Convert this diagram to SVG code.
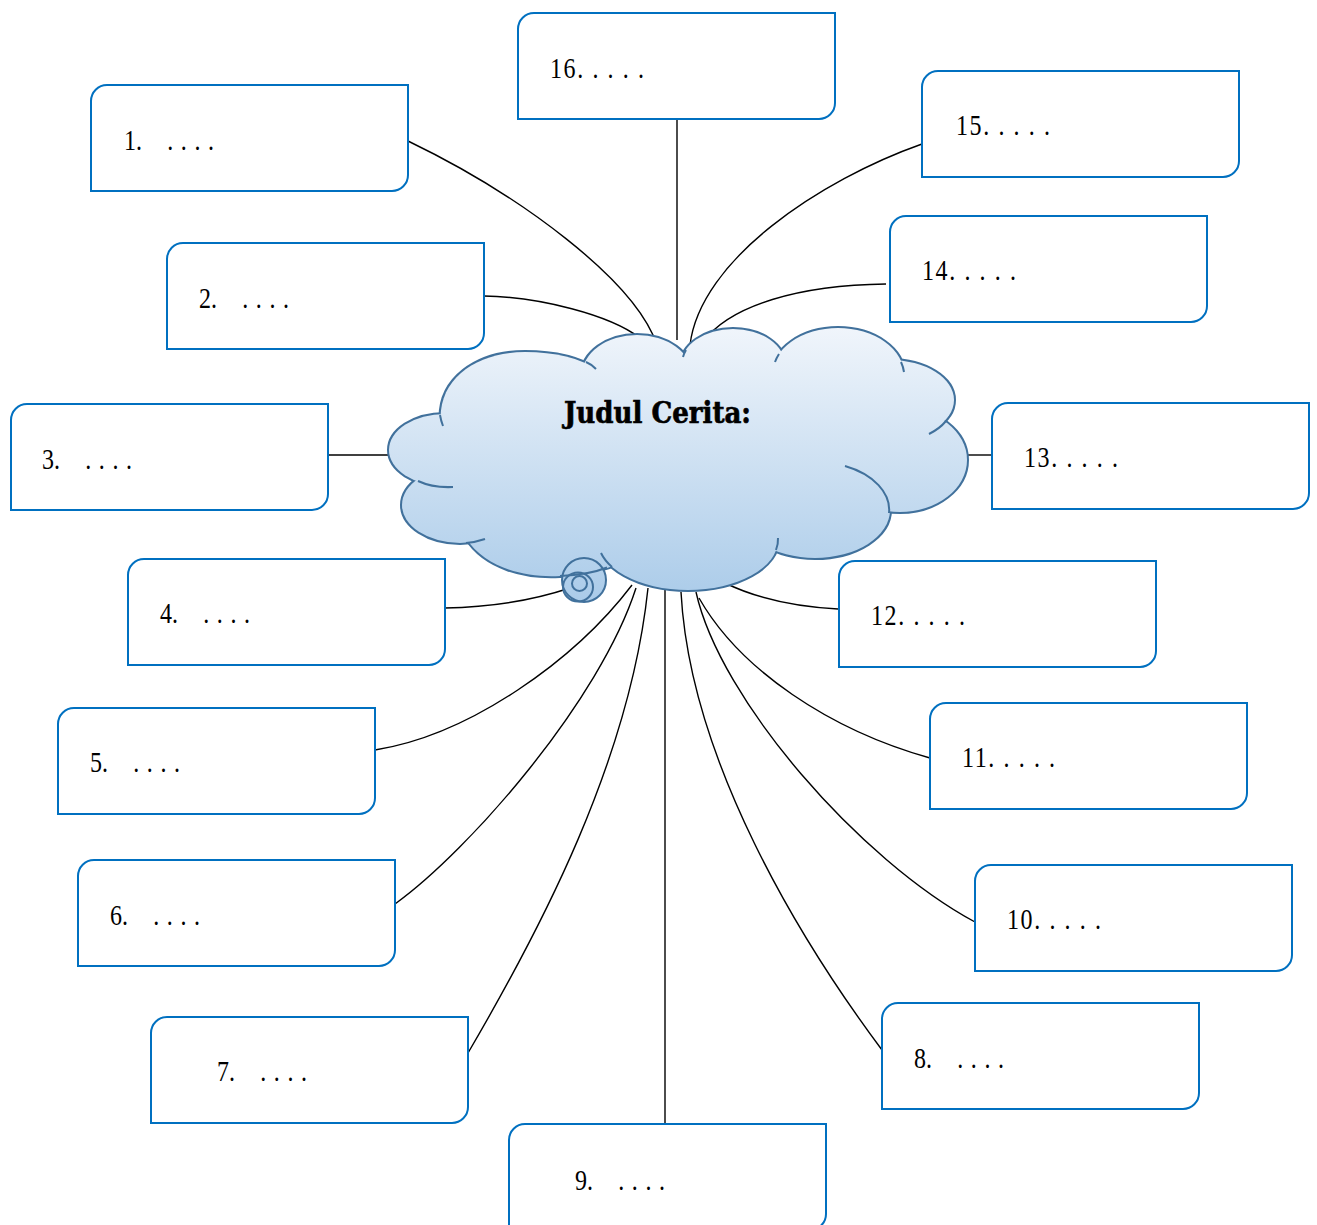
<svg xmlns="http://www.w3.org/2000/svg" xmlns:xlink="http://www.w3.org/1999/xlink" width="1317" height="1225" viewBox="0 0 1317 1225">
<style>
.box{fill:#fff;stroke:#0070c0;stroke-width:2}
.con{fill:none;stroke:#000;stroke-width:1.4}
.t{font-family:"Liberation Serif","Times New Roman",serif;font-size:30px;fill:#000}
.d{letter-spacing:1px}
.dd{letter-spacing:2px}
.hook{fill:none;stroke:#41719c;stroke-width:2}
.title{font-family:"DejaVu Serif","Liberation Serif",serif;font-weight:bold;font-size:30px;fill:#000;stroke:#000;stroke-width:0.7}
</style>
<defs>
<linearGradient id="cg" gradientUnits="userSpaceOnUse" x1="0" y1="328" x2="0" y2="603">
<stop offset="0" stop-color="#f0f5fb"/>
<stop offset="1" stop-color="#aacbe9"/>
</linearGradient>
<g id="cs">
<ellipse cx="680" cy="460" rx="220" ry="95"/>
<ellipse cx="445" cy="450" rx="56" ry="36"/>
<ellipse cx="460" cy="505" rx="58" ry="38"/>
<path d="M466,538 C485,568 525,578 560,576 C585,575 605,570 622,562 L622,500 L470,500 Z"/>
<ellipse cx="688" cy="540" rx="90" ry="50"/>
<ellipse cx="815" cy="510" rx="75" ry="48"/>
<ellipse cx="900" cy="460" rx="67" ry="52"/>
<ellipse cx="890" cy="400" rx="64" ry="40"/>
<ellipse cx="838" cy="375" rx="66" ry="47"/>
<ellipse cx="733" cy="365" rx="52" ry="36"/>
<ellipse cx="637" cy="375" rx="55" ry="40"/>
<path d="M441,425 C436,378 478,352 525,352 C555,352 580,358 598,370 L610,420 L470,440 Z"/>
</g>
</defs>

<g id="connectors">
<path class="con" d="M408,141 C520,195 635,280 657,345"/>
<path class="con" d="M484,296 C540,297 610,315 640,338"/>
<path class="con" d="M328,455 H395"/>
<path class="con" d="M445,608 C500,607 540,598 570,588"/>
<path class="con" d="M375,750 C470,735 575,660 632,585"/>
<path class="con" d="M395,904 C470,850 600,700 636,588"/>
<path class="con" d="M468,1053 C540,930 630,760 648,588"/>
<path class="con" d="M882,1050 C800,940 690,760 681,592"/>
<path class="con" d="M665,590 V1124"/>
<path class="con" d="M975,922 C860,860 720,700 696,592"/>
<path class="con" d="M930,758 C830,730 740,670 699,598"/>
<path class="con" d="M838,609 C800,607 760,600 725,583"/>
<path class="con" d="M962,455 H992"/>
<path class="con" d="M886,284 C800,285 730,305 703,342"/>
<path class="con" d="M922,144 C820,180 700,260 690,345"/>
<path class="con" d="M677,120 V340"/>
</g>

<g id="cloud">
<use xlink:href="#cs" href="#cs" fill="url(#cg)" stroke="#41719c" stroke-width="4"/>
<use xlink:href="#cs" href="#cs" fill="url(#cg)" stroke="none"/>
<path class="hook" d="M440,415 Q441,421 443,426"/>
<path class="hook" d="M418,481 Q433,488 453,487"/>
<path class="hook" d="M466,543 A58 38 0 0 0 485,539"/>
<path class="hook" d="M612,567 A90 50 0 0 1 601,553"/>
<path class="hook" d="M776,550 A90 50 0 0 0 778,538"/>
<path class="hook" d="M889,513 A75 48 0 0 0 845,466"/>
<path class="hook" d="M946,421 A64 40 0 0 1 929,434"/>
<path class="hook" d="M901,362 A66 47 0 0 1 904,372"/>
<path class="hook" d="M779,354 A66 47 0 0 0 775,362"/>
<path class="hook" d="M686,350 A52 36 0 0 0 683,357"/>
<path class="hook" d="M586,362 Q591,364 596,369"/>
<circle cx="584" cy="580" r="22" fill="url(#cg)" stroke="#41719c" stroke-width="2"/>
<path class="hook" d="M560,576 C580,575.2 596,572 607,567.5"/>
<ellipse cx="578" cy="587" rx="15" ry="14.5" fill="none" stroke="#41719c" stroke-width="2"/>
<circle cx="579.5" cy="583.5" r="7.5" fill="none" stroke="#41719c" stroke-width="2"/>
<text class="title" x="564" y="423" textLength="187" lengthAdjust="spacingAndGlyphs">Judul Cerita:</text>
</g>

<g id="n1"><path class="box" d="M107,85 H408 V175 A16,16 0 0 1 392,191 H91 V101 A16,16 0 0 1 107,85 Z"/>
<text class="t" transform="translate(124,150) scale(0.8,1)">1.<tspan class="d" x="54">. . . .</tspan></text></g>
<g id="n2"><path class="box" d="M183,243 H484 V333 A16,16 0 0 1 468,349 H167 V259 A16,16 0 0 1 183,243 Z"/>
<text class="t" transform="translate(199,308) scale(0.8,1)">2.<tspan class="d" x="54">. . . .</tspan></text></g>
<g id="n3"><path class="box" d="M27,404 H328 V494 A16,16 0 0 1 312,510 H11 V420 A16,16 0 0 1 27,404 Z"/>
<text class="t" transform="translate(42,469) scale(0.8,1)">3.<tspan class="d" x="54">. . . .</tspan></text></g>
<g id="n4"><path class="box" d="M144,559 H445 V649 A16,16 0 0 1 429,665 H128 V575 A16,16 0 0 1 144,559 Z"/>
<text class="t" transform="translate(160,623) scale(0.8,1)">4.<tspan class="d" x="54">. . . .</tspan></text></g>
<g id="n5"><path class="box" d="M74,708 H375 V798 A16,16 0 0 1 359,814 H58 V724 A16,16 0 0 1 74,708 Z"/>
<text class="t" transform="translate(90,772) scale(0.8,1)">5.<tspan class="d" x="54">. . . .</tspan></text></g>
<g id="n6"><path class="box" d="M94,860 H395 V950 A16,16 0 0 1 379,966 H78 V876 A16,16 0 0 1 94,860 Z"/>
<text class="t" transform="translate(110,925) scale(0.8,1)">6.<tspan class="d" x="54">. . . .</tspan></text></g>
<g id="n7"><path class="box" d="M167,1017 H468 V1107 A16,16 0 0 1 452,1123 H151 V1033 A16,16 0 0 1 167,1017 Z"/>
<text class="t" transform="translate(217,1081) scale(0.8,1)">7.<tspan class="d" x="54">. . . .</tspan></text></g>
<g id="n8"><path class="box" d="M898,1003 H1199 V1093 A16,16 0 0 1 1183,1109 H882 V1019 A16,16 0 0 1 898,1003 Z"/>
<text class="t" transform="translate(914,1068) scale(0.8,1)">8.<tspan class="d" x="54">. . . .</tspan></text></g>
<g id="n9"><path class="box" d="M525,1124 H826 V1214 A16,16 0 0 1 810,1230 H509 V1140 A16,16 0 0 1 525,1124 Z"/>
<text class="t" transform="translate(575,1190) scale(0.8,1)">9.<tspan class="d" x="54">. . . .</tspan></text></g>
<g id="n10"><path class="box" d="M991,865 H1292 V955 A16,16 0 0 1 1276,971 H975 V881 A16,16 0 0 1 991,865 Z"/>
<text class="t dd" transform="translate(1007,929) scale(0.8,1)">10. . . . .</text></g>
<g id="n11"><path class="box" d="M946,703 H1247 V793 A16,16 0 0 1 1231,809 H930 V719 A16,16 0 0 1 946,703 Z"/>
<text class="t dd" transform="translate(962,767) scale(0.8,1)">11. . . . .</text></g>
<g id="n12"><path class="box" d="M855,561 H1156 V651 A16,16 0 0 1 1140,667 H839 V577 A16,16 0 0 1 855,561 Z"/>
<text class="t dd" transform="translate(871,625) scale(0.8,1)">12. . . . .</text></g>
<g id="n13"><path class="box" d="M1008,403 H1309 V493 A16,16 0 0 1 1293,509 H992 V419 A16,16 0 0 1 1008,403 Z"/>
<text class="t dd" transform="translate(1024,467) scale(0.8,1)">13. . . . .</text></g>
<g id="n14"><path class="box" d="M906,216 H1207 V306 A16,16 0 0 1 1191,322 H890 V232 A16,16 0 0 1 906,216 Z"/>
<text class="t dd" transform="translate(922,280) scale(0.8,1)">14. . . . .</text></g>
<g id="n15"><path class="box" d="M938,71 H1239 V161 A16,16 0 0 1 1223,177 H922 V87 A16,16 0 0 1 938,71 Z"/>
<text class="t dd" transform="translate(956,135) scale(0.8,1)">15. . . . .</text></g>
<g id="n16"><path class="box" d="M534,13 H835 V103 A16,16 0 0 1 819,119 H518 V29 A16,16 0 0 1 534,13 Z"/>
<text class="t dd" transform="translate(550,78) scale(0.8,1)">16. . . . .</text></g>
</svg>
